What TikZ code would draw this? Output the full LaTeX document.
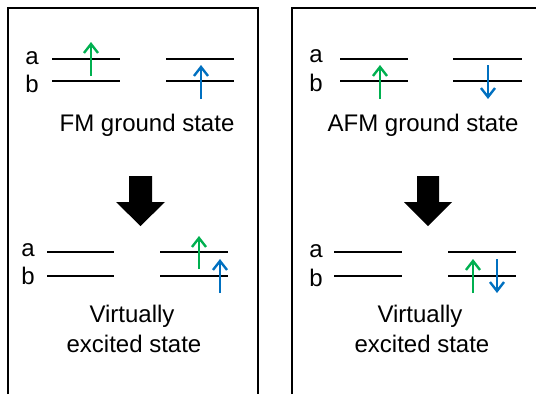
\documentclass[tikz,border=0pt]{standalone}
\usepackage{fontspec}
\setmainfont{Liberation Sans}
\usetikzlibrary{arrows.meta}
\definecolor{spingreen}{HTML}{00B050}
\definecolor{spinblue}{HTML}{0070C0}
\begin{document}
\begin{tikzpicture}[x=1pt,y=-1pt,
  lvl/.style={line width=2pt,black},
  frame/.style={line width=2pt,black},
  spin/.style={line width=2.4pt,-{Straight Barb[length=9pt,width=14pt,line width=2.4pt]}},
  up/.style={spin,spingreen},
  upb/.style={spin,spinblue},
  lbl/.style={font=\fontsize{24}{28}\selectfont,anchor=base,inner sep=0pt},
  bigarrow/.style={fill=black}]
\useasboundingbox (0,0) rectangle (536,394);
% frames
\draw[frame] (8,394) -- (8,7.5) -- (258,7.5) -- (258,394);
\draw[frame] (292,394) -- (292,7.5) -- (537,7.5);
% ---------- left panel ----------
\node[lbl] (la1) at (32,64) {a};
\node[lbl] (lb1) at (32,92) {b};
\draw[lvl] (52,59) -- (120,59);
\draw[lvl] (52,81) -- (120,81);
\draw[lvl] (166,59) -- (234,59);
\draw[lvl] (166,81) -- (234,81);
\coordinate (g1s) at (91,76); \coordinate (g1e) at (91,42);
\coordinate (b1s) at (201,99); \coordinate (b1e) at (201,65);
\draw[up] (g1s) -- (g1e);
\draw[upb] (b1s) -- (b1e);
\node[lbl] (fm) at (147,131) {FM ground state};
\fill[bigarrow] (129,176) -- (152,176) -- (152,202) -- (165,202) -- (140.5,226) -- (116,202) -- (129,202) -- cycle;
\node[lbl] (la2) at (28,256) {a};
\node[lbl] (lb2) at (28,284) {b};
\draw[lvl] (47,252) -- (114,252);
\draw[lvl] (47,276) -- (114,276);
\draw[lvl] (160,252) -- (228,252);
\draw[lvl] (160,276) -- (228,276);
\coordinate (g2s) at (199,269); \coordinate (g2e) at (199,236);
\coordinate (b2s) at (220,293); \coordinate (b2e) at (220,259);
\draw[up] (g2s) -- (g2e);
\draw[upb] (b2s) -- (b2e);
\node[lbl] (v1) at (132,322) {Virtually};
\node[lbl] (e1) at (134,352) {excited state};
% ---------- right panel ----------
\node[lbl] (ra1) at (316,62) {a};
\node[lbl] (rb1) at (316,91) {b};
\draw[lvl] (340,59) -- (408,59);
\draw[lvl] (340,81) -- (408,81);
\draw[lvl] (453,59) -- (522,59);
\draw[lvl] (453,81) -- (522,81);
\coordinate (g3s) at (380,99); \coordinate (g3e) at (380,65);
\coordinate (b3s) at (488,65); \coordinate (b3e) at (488,99);
\draw[up] (g3s) -- (g3e);
\draw[upb] (b3s) -- (b3e);
\node[lbl] (afm) at (423,131) {AFM ground state};
\fill[bigarrow] (417,176) -- (439,176) -- (439,202) -- (452,202) -- (428,226) -- (404,202) -- (417,202) -- cycle;
\node[lbl] (ra2) at (316,257) {a};
\node[lbl] (rb2) at (316,286) {b};
\draw[lvl] (334,252) -- (402,252);
\draw[lvl] (334,276) -- (402,276);
\draw[lvl] (448,252) -- (516,252);
\draw[lvl] (448,276) -- (516,276);
\coordinate (g4s) at (473,293); \coordinate (g4e) at (473,259);
\coordinate (b4s) at (497,259); \coordinate (b4e) at (497,293);
\draw[up] (g4s) -- (g4e);
\draw[upb] (b4s) -- (b4e);
\node[lbl] (v2) at (420,322) {Virtually};
\node[lbl] (e2) at (422,352) {excited state};
\end{tikzpicture}
\end{document}
